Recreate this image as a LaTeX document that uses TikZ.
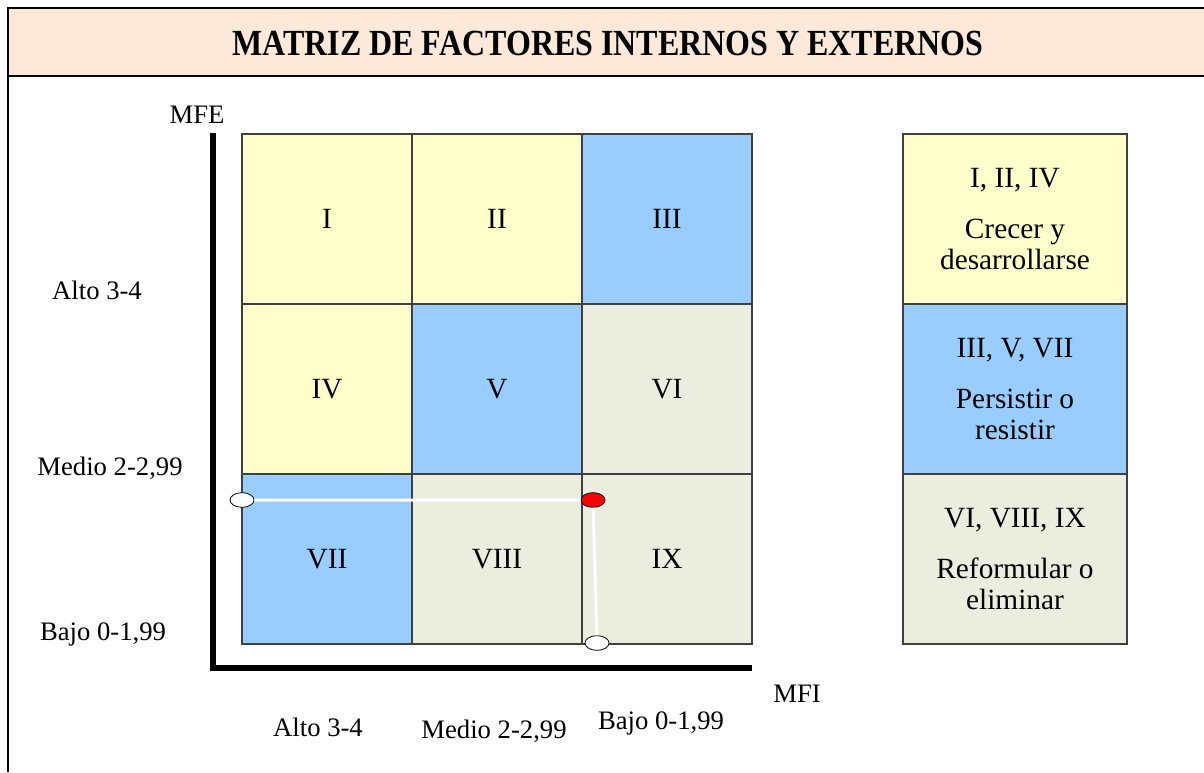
\documentclass[tikz,border=0pt]{standalone}
\usepackage{fontspec}
\setmainfont{Liberation Serif}
\usetikzlibrary{shapes.geometric,positioning}
\definecolor{titlepeach}{HTML}{FCE9D9}
\definecolor{cellyellow}{HTML}{FFFFCC}
\definecolor{cellblue}{HTML}{99CCFF}
\definecolor{cellgreen}{HTML}{EBEEDE}
\definecolor{gridgray}{HTML}{404040}
\tikzset{
  cellbox/.style={draw=gridgray, line width=0.8pt, minimum width=127.5pt,
    minimum height=127.5pt, inner sep=0pt, font=\fontsize{22}{23.5}\selectfont},
  legendbox/.style={cellbox, minimum width=168pt, align=center},
  axislabel/.style={font=\fontsize{20}{23}\selectfont, inner sep=0pt},
  marker/.style={ellipse, draw=black, line width=0.6pt, fill=white,
    minimum width=18pt, minimum height=11pt, inner sep=0pt}
}

\begin{document}
\begin{tikzpicture}[x=0.75pt,y=-0.75pt]
\useasboundingbox (0,0) rectangle (1204,772);

% title band and frame
\fill[titlepeach] (8,8) rectangle (1204,76);
\draw[line width=2pt] (1204,8) -- (8,8) -- (8,772);
\draw[line width=2pt] (8,76) -- (1204,76);
\node[font=\bfseries\fontsize{24}{28}\selectfont] (title) at (608,43)
  {\scalebox{1}[1.15]{MATRIZ DE FACTORES INTERNOS Y EXTERNOS}};

% axes
\path
  (213,133) coordinate (yTop)
  (213,668) coordinate (origin)
  (752,668) coordinate (xEnd);
\draw[black!25, line width=4.5pt, xshift=2pt, yshift=-2pt] (yTop) -- (origin) -- (xEnd);
\draw[line width=4.5pt] (yTop) -- (origin) -- (xEnd);

% matrix cells
\foreach \lbl/\cx/\cy/\tone in {I/327/219/cellyellow, II/497/219/cellyellow,
    III/667/219/cellblue, IV/327/389/cellyellow, V/497/389/cellblue,
    VI/667/389/cellgreen, VII/327/559/cellblue, VIII/497/559/cellgreen,
    IX/667/559/cellgreen}
  \node[cellbox, fill=\tone] (cell\lbl) at (\cx,\cy) {\lbl};

% legend
\node[legendbox, fill=cellyellow] (legGrow) at (1015,219)
  {I, II, IV\\[14.5pt]Crecer y\\desarrollarse};
\node[legendbox, fill=cellblue] (legHold) at (1015,389)
  {III, V, VII\\[14.5pt]Persistir o\\resistir};
\node[legendbox, fill=cellgreen] (legDrop) at (1015,559)
  {VI, VIII, IX\\[14.5pt]Reformular o\\eliminar};

% position of the company
\node[marker] (dotMFE) at (242,500) {};
\node[marker, fill=red] (dotPos) at (593,500) {};
\node[marker] (dotMFI) at (597,643) {};
\draw[white, line width=2.25pt] (dotMFE) -- (dotPos) -- (dotMFI);

% axis labels
\node[axislabel] (lblMFE) at (197,115) {MFE};
\node[axislabel] (lblMFI) at (797,694) {MFI};
\node[axislabel] (yHigh) at (97,290) {Alto 3-4};
\node[axislabel] (yMid) at (110,468) {Medio 2-2,99};
\node[axislabel] (yLow) at (103,634) {Bajo 0-1,99};
\node[axislabel] (xHigh) at (318,727) {Alto 3-4};
\node[axislabel] (xMid) at (494,731) {Medio 2-2,99};
\node[axislabel] (xLow) at (661,723) {Bajo 0-1,99};
\end{tikzpicture}
\end{document}
